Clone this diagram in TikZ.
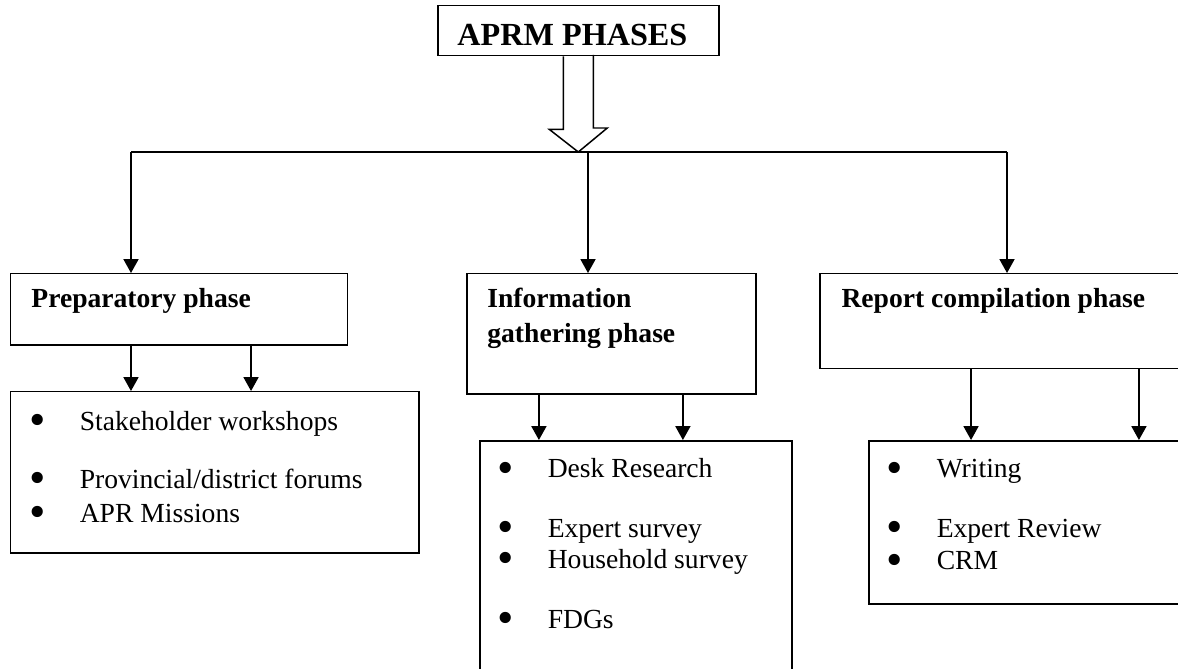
\documentclass[tikz,border=0pt]{standalone}
\usepackage{fontspec}
\setmainfont{Liberation Serif}
\usepackage{graphicx}
\usepackage{tikz}
\usetikzlibrary{positioning}
\usetikzlibrary {arrows.meta}
\tikzset{phasebox/.style={rectangle,draw=black,fill=white,
line width=0.65pt,anchor=north west,inner sep=0pt}}
\tikzset{phasetitle/.style={anchor=base west,inner sep=0pt,
font=\fontsize{12}{14}\selectfont\bfseries}}
\tikzset{phaseitem/.style={anchor=base west,inner sep=0pt,
font=\fontsize{12}{14}\selectfont}}
\tikzset{phasearrow/.style={line width=0.65pt,-{Triangle[length=6pt,width=6.5pt]}}}
\newcommand{\phasebullet}{\makebox[22pt][l]{\raisebox{-2.45pt}[0pt][0pt]{\scalebox{1.7}{\textbullet}}}}

\begin{document}
\begin{tikzpicture}[x=0.43478pt,y=-0.43478pt]
        \clip (0,0) rectangle (1178,668);

        \node[phasebox,minimum width=122.2pt,minimum height=21.7pt] (aprm) at (437,5) {};
        \node[phasetitle,font=\fontsize{14}{17}\selectfont\bfseries] (aprmText) at ([xshift=8.7pt,yshift=-17.4pt]aprm.north west) {APRM PHASES};

        \node[phasebox,minimum width=146.5pt,minimum height=30.9pt] (prep) at (10,273) {};
        \node[phasebox,minimum width=125.7pt,minimum height=52.2pt] (info) at (466,273) {};
        \node[phasebox,minimum width=165.7pt,minimum height=41.3pt] (report) at (819,273) {};

        \node[phasetitle] (prepText) at ([xshift=9.1pt,yshift=-15.2pt]prep.north west) {Preparatory phase};
        \node[phasetitle] (infoText) at ([xshift=9.1pt,yshift=-15.2pt]info.north west) {Information};
        \node[phasetitle] (infoTextb) at ([yshift=-14.8pt]infoText.base west) {gathering phase};
        \node[phasetitle] (reportText) at ([xshift=9.6pt,yshift=-15.2pt]report.north west) {Report compilation phase};

        \node[phasebox,minimum width=177.4pt,minimum height=70pt] (prepList) at (10,391) {};
        \node[phasebox,minimum width=135.7pt,minimum height=113pt] (infoList) at (479,440) {};
        \node[phasebox,minimum width=144.3pt,minimum height=70.9pt] (reportList) at (868,440) {};

        \node[phaseitem] (prepItemA) at ([xshift=8.15pt,yshift=-17pt]prepList.north west) {\phasebullet Stakeholder workshops};
        \node[phaseitem] (prepItemB) at ([yshift=-25.3pt]prepItemA.base west) {\phasebullet Provincial/district forums};
        \node[phaseitem] (prepItemC) at ([yshift=-14.8pt]prepItemB.base west) {\phasebullet APR Missions};

        \node[phaseitem] (infoItemA) at ([xshift=7.7pt,yshift=-16.5pt]infoList.north west) {\phasebullet Desk Research};
        \node[phaseitem] (infoItemB) at ([yshift=-25.7pt]infoItemA.base west) {\phasebullet Expert survey};
        \node[phaseitem] (infoItemC) at ([yshift=-13.5pt]infoItemB.base west) {\phasebullet Household survey};
        \node[phaseitem] (infoItemD) at ([yshift=-26.1pt]infoItemC.base west) {\phasebullet FDGs};

        \node[phaseitem] (reportItemA) at ([xshift=7.7pt,yshift=-16.5pt]reportList.north west) {\phasebullet Writing};
        \node[phaseitem] (reportItemB) at ([yshift=-25.7pt]reportItemA.base west) {\phasebullet Expert Review};
        \node[phaseitem] (reportItemC) at ([yshift=-14.3pt]reportItemB.base west) {\phasebullet CRM};

        % hollow arrow and branches
        \coordinate (busL) at (131,152);
        \coordinate (busM) at (588,152);
        \coordinate (busR) at (1007,152);
        \draw[line width=0.65pt] ([xshift=-6.5pt]aprm.south) -- ++(0,73) -- ++(-14,0) -- (aprm.south |- busL) -- ++(29,-24) -- ++(-14,0) -- ++(0,-73);
        \draw[line width=0.65pt] (busL) -- (busR);
        \draw[phasearrow] (busL) -- (busL |- prep.north);
        \draw[phasearrow] (busM) -- (busM |- info.north);
        \draw[phasearrow] (busR) -- (busR |- report.north);

        \coordinate (prepA) at ([xshift=52.6pt]prep.south west);
        \coordinate (prepB) at ([xshift=104.8pt]prep.south west);
        \draw[phasearrow] (prepA) -- (prepA |- prepList.north);
        \draw[phasearrow] (prepB) -- (prepB |- prepList.north);

        \coordinate (infoA) at ([xshift=31.7pt]info.south west);
        \coordinate (infoB) at ([xshift=94.3pt]info.south west);
        \draw[phasearrow] (infoA) -- (infoA |- infoList.north);
        \draw[phasearrow] (infoB) -- (infoB |- infoList.north);

        \coordinate (reportA) at ([xshift=66.1pt]report.south west);
        \coordinate (reportB) at ([xshift=139.1pt]report.south west);
        \draw[phasearrow] (reportA) -- (reportA |- reportList.north);
        \draw[phasearrow] (reportB) -- (reportB |- reportList.north);

    \end{tikzpicture}
\end{document}
